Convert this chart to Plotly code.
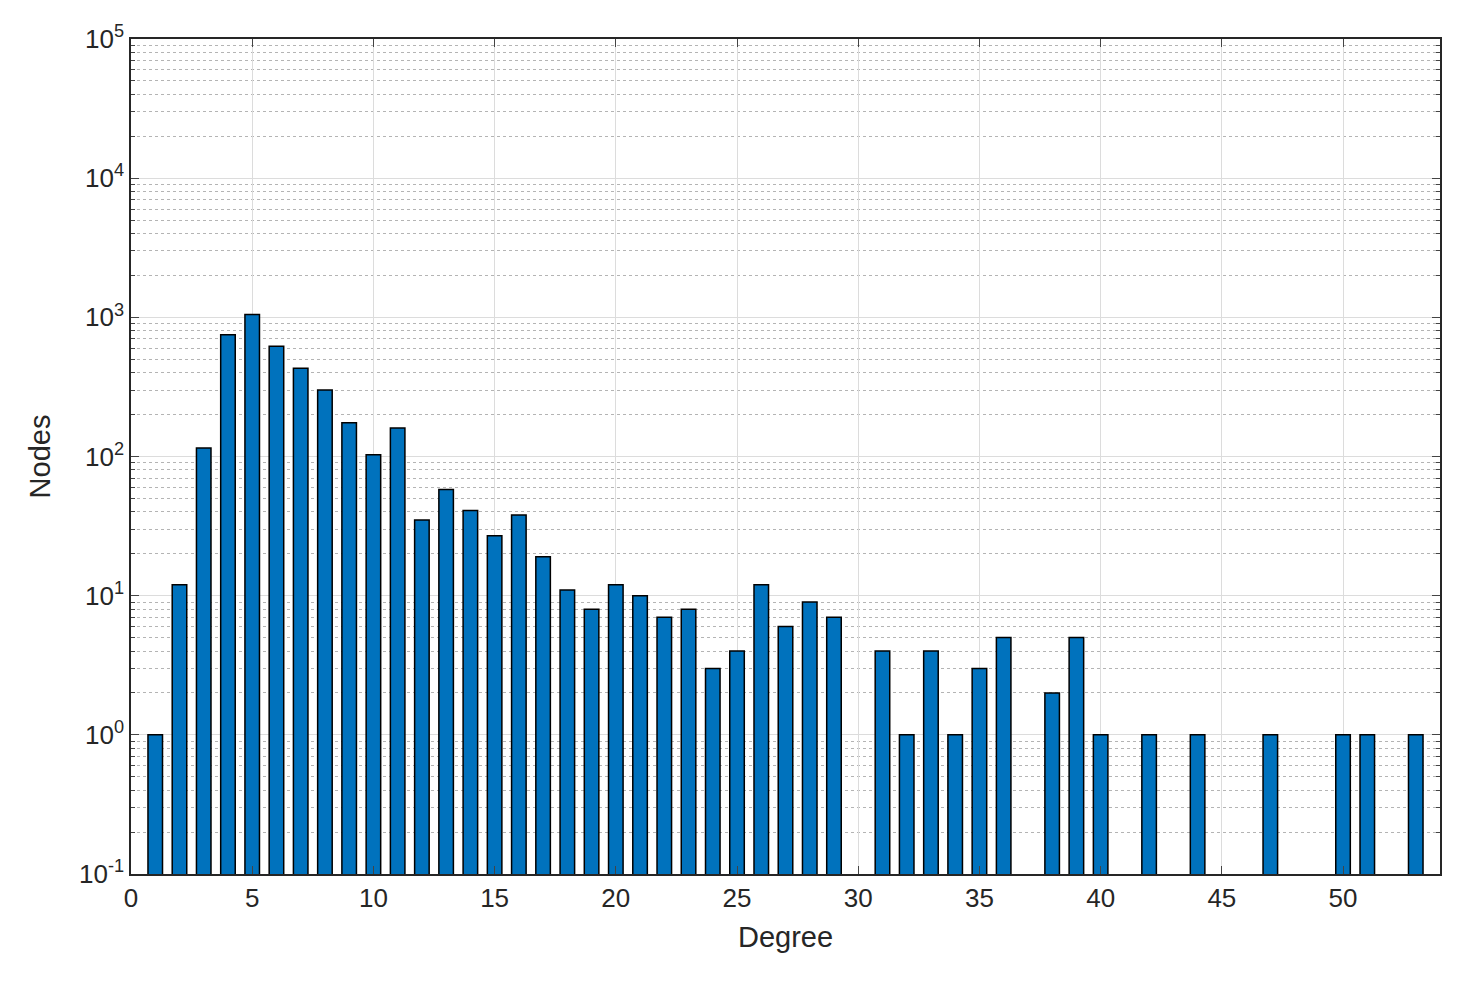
import plotly.graph_objects as go

degrees = [1,2,3,4,5,6,7,8,9,10,11,12,13,14,15,16,17,18,19,20,21,22,23,24,25,26,27,28,29,31,32,33,34,35,36,38,39,40,42,44,47,50,51,53]
nodes = [1,12,115,750,1050,620,430,300,175,103,160,35,58,41,27,38,19,11,8,12,10,7,8,3,4,12,6,9,7,4,1,4,1,3,5,2,5,1,1,1,1,1,1,1]
ytick_vals = [0.1,1,10,100,1000,10000,100000]
ytick_text = ["10<sup>-1</sup>","10<sup>0</sup>","10<sup>1</sup>","10<sup>2</sup>","10<sup>3</sup>","10<sup>4</sup>","10<sup>5</sup>"]

fig = go.Figure(go.Bar(x=degrees, y=nodes, width=0.6,
    marker=dict(color="#0072BD", line=dict(color="black", width=1.5))))
fig.update_layout(width=1476, height=990, plot_bgcolor="white", paper_bgcolor="white",
    margin=dict(l=123, r=44, t=31, b=124), showlegend=False,
    font=dict(family="Liberation Sans, Arial", size=26, color="#262626"))
fig.update_xaxes(range=[0,54], tickvals=list(range(0,55,5)), ticks="inside", ticklen=8,
    showline=True, linecolor="#262626", linewidth=1.5, mirror="ticks", automargin=False,
    showgrid=True, gridcolor="#dcdcdc", gridwidth=1,
    title=dict(text="Degree", font=dict(size=29)), zeroline=False)
fig.update_yaxes(type="log", range=[-1,5], tickvals=ytick_vals, ticktext=ytick_text,
    ticks="inside", ticklen=8, showline=True, linecolor="#262626", linewidth=1.5, mirror="ticks",
    automargin=False,
    showgrid=True, gridcolor="#dcdcdc", gridwidth=1,
    minor=dict(ticks="inside", ticklen=4, showgrid=True, gridcolor="#b4b4b4", griddash="dot",
               gridwidth=1.2, dtick="D1"),
    title=dict(text="Nodes", font=dict(size=29), standoff=20), zeroline=False)
fig.write_html("out.html")
